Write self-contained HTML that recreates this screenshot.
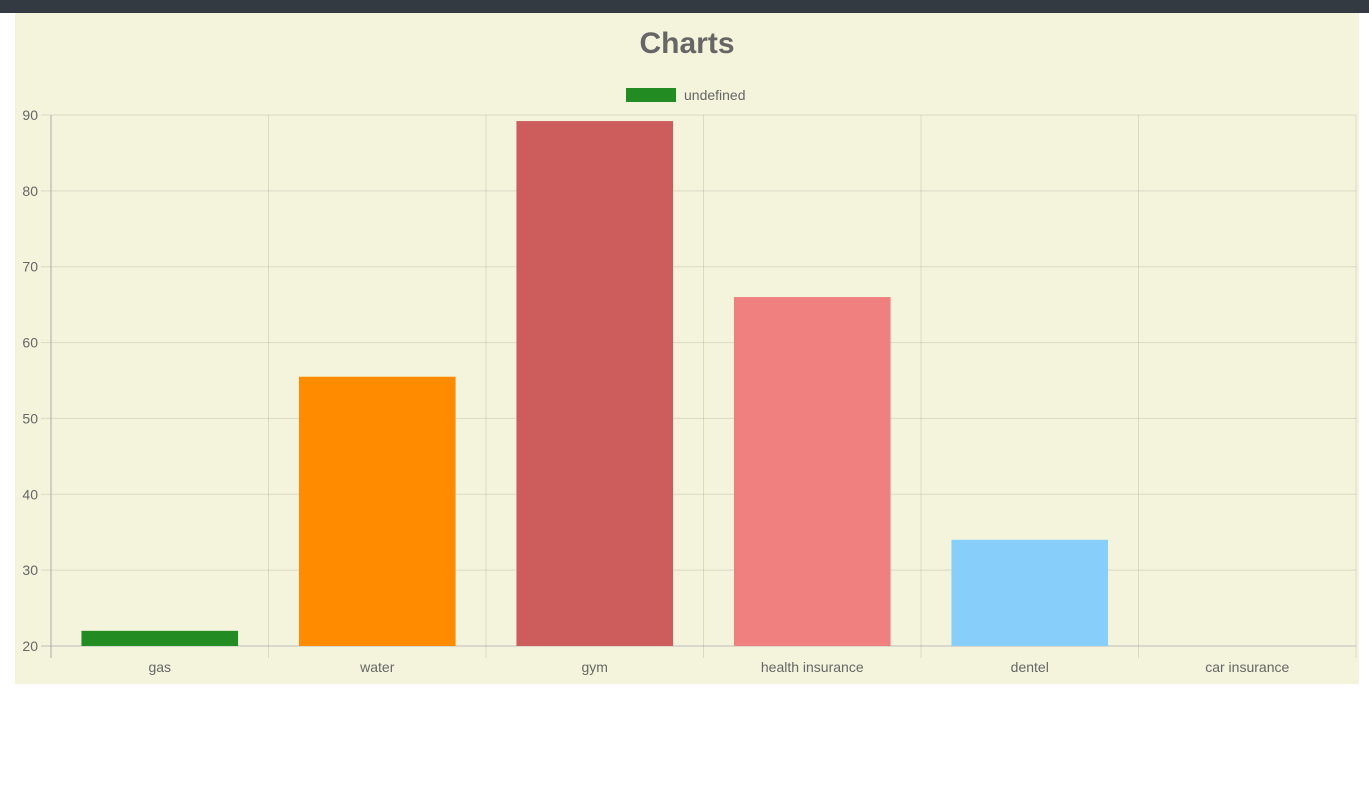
<!DOCTYPE html>
<html><head><meta charset="utf-8"><style>
body{margin:0;width:1369px;height:786px;background:#fff;overflow:hidden;font-family:"Liberation Sans",sans-serif}
#top{position:absolute;left:0;top:0;width:1369px;height:13px;background:#343a42}
#panel{position:absolute;left:15px;top:13px;width:1344px;height:671px;background:#f4f4dc}
svg{position:absolute;left:0;top:0}
</style></head><body>
<div id="top"></div>
<div id="panel"></div>
<svg id="chart" width="1369" height="786">
<text x="687" y="53" text-anchor="middle" font-size="30" font-weight="bold" fill="#666">Charts</text>
<rect x="626" y="88" width="50" height="14" fill="#228b22"></rect>
<text x="684" y="100" font-size="14" fill="#666">undefined</text>
</svg>
<script>
const categories=["gas","water","gym","health insurance","dentel","car insurance"];
const values=[22,55.5,89.2,66,34,0];
const colors=["#228b22","#ff8c00","#cd5c5c","#f08080","#87cefa","#9370db"];
const yTicks=[20,30,40,50,60,70,80,90];
const L=51,R=1356,T=115,B=646,yMin=20,yMax=90;
const svg=document.getElementById('chart');const NS="http://www.w3.org/2000/svg";
function y(v){return B-(Math.max(yMin,Math.min(yMax,v))-yMin)/(yMax-yMin)*(B-T);}
const bw=(R-L)/categories.length;
function x(i){return L+i*bw;}
function mk(t,a){const e=document.createElementNS(NS,t);for(const k in a)e.setAttribute(k,a[k]);svg.appendChild(e);return e;}
yTicks.forEach(v=>{
 const g=mk('line',{x1:41,x2:R,y1:y(v),y2:y(v),stroke:v===yMin?'#bbb':'rgba(0,0,0,0.1)'});
 
 
 const t=mk('text',{x:38,y:y(v)+5,'text-anchor':'end','font-size':14,fill:'#666'});t.textContent=v;
 
 
});
for(let i=0;i<=categories.length;i++){
 const g=mk('line',{x1:x(i),x2:x(i),y1:T,y2:B+12,stroke:i===0?'#aaa':'rgba(0,0,0,0.1)'});
 
 
}
categories.forEach((c,i)=>{
 const w=bw*0.72,bx=x(i)+(bw-w)/2,top=y(values[i]);
 if(B-top>0){const r=mk('rect',{x:bx,y:top,width:w,height:B-top,fill:colors[i]});
 
 }
 const t=mk('text',{x:x(i)+bw/2,y:672,'text-anchor':'middle','font-size':14,fill:'#666'});t.textContent=c;
 
 
});
</script>
</body></html>
